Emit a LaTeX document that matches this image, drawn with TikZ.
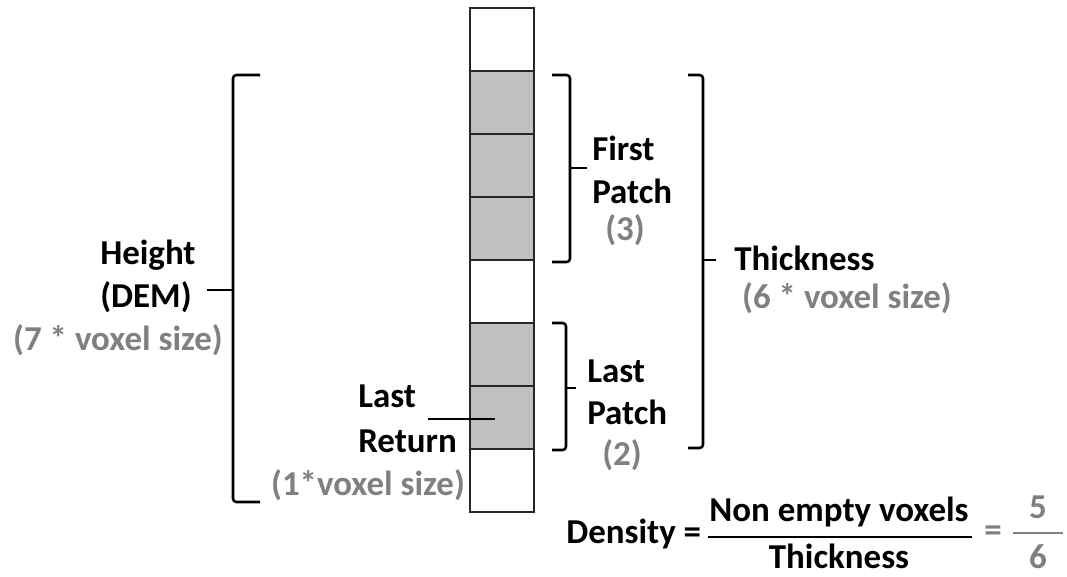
\documentclass[tikz,border=0pt]{standalone}
\usepackage{fontspec}
\setmainfont{Carlito}
\definecolor{txtgray}{RGB}{128,128,128}
\definecolor{cellgray}{RGB}{192,192,192}
\begin{document}
\begin{tikzpicture}[x=0.75pt,y=-0.75pt,
  lbl/.style={font=\fontsize{26.2}{30}\selectfont\bfseries, inner sep=0pt},
  glbl/.style={lbl, text=txtgray},
  cellbox/.style={draw=black!85, line width=1.1pt},
  brace/.style={draw=black, line width=1.9pt, rounded corners=2.5pt},
  tipline/.style={draw=black, line width=1.3pt},
  frac/.style={draw=black, line width=1.9pt}]
\useasboundingbox (0,0) rectangle (1067,577);
% voxel column
\foreach \i/\f in {0/white,1/cellgray,2/cellgray,3/cellgray,4/white,5/cellgray,6/cellgray,7/white}{
  \path[cellbox, fill=\f] (470,{8+63*\i}) rectangle (534,{8+63*(\i+1)});
}
\coordinate (lastcell) at (495,419);
% left brace (Height)
\draw[brace] (260,75) -| (233,502) -- (260,502);
\draw[tipline] (233,290) -- (207,290);
% First Patch brace
\draw[brace] (552,75) -| (570,262) -- (552,262);
\draw[tipline] (570,168) -- (587,168);
% Last Patch brace
\draw[brace] (552,323) -| (566,450) -- (552,450);
\draw[tipline] (566,388) -- (576,388);
% Thickness brace
\draw[brace] (688,75) -| (703,448) -- (688,448);
\draw[tipline] (703,260) -- (716,260);
% Height labels
\node[lbl, anchor=base west] (h1) at (100,265) {Height};
\node[lbl, anchor=base west] (h2) at (100,307) {(DEM)};
\node[glbl, anchor=base] (h3) at (118,350) {(7 * voxel size)};
% First patch
\node[lbl, anchor=base west] (f1) at (592,161) {First};
\node[lbl, anchor=base west] (f2) at (592,204) {Patch};
\node[glbl, anchor=base] (f3) at (625,241) {(3)};
% Last patch
\node[lbl, anchor=base west] (p1) at (587,382) {Last};
\node[lbl, anchor=base west] (p2) at (587,424) {Patch};
\node[glbl, anchor=base] (p3) at (622,465) {(2)};
% Thickness
\node[lbl, anchor=base west] (t1) at (734,271) {Thickness};
\node[glbl, anchor=base] (t2) at (847,309) {(6 * voxel size)};
% Last return
\node[lbl, anchor=base west] (r1) at (358,407) {Last};
\node[lbl, anchor=base west] (r2) at (358,452) {Return};
\node[glbl, anchor=base] (r3) at (368,495) {(1*voxel size)};
\coordinate (rstart) at (428,419);
\draw[line width=1.9pt] (rstart) -- (lastcell);
% Density formula
\node[lbl, anchor=base west] (d1) at (566,543) {Density =};
\node[lbl, anchor=base] (num) at (839,521) {Non empty voxels};
\node[lbl, anchor=base] (den) at (839,568) {Thickness};
\coordinate (fl) at (708,537);
\coordinate (fr) at (972,537);
\draw[frac] (fl) -- (fr);
\node[glbl, anchor=center] (eq2) at (993,534) {=};
\node[glbl, anchor=base] (n5) at (1038,518) {5};
\node[glbl, anchor=base] (n6) at (1038,568) {6};
\coordinate (gl) at (1013,533);
\coordinate (gr) at (1063,533);
\draw[draw=txtgray, line width=1.9pt] (gl) -- (gr);
\end{tikzpicture}
\end{document}
